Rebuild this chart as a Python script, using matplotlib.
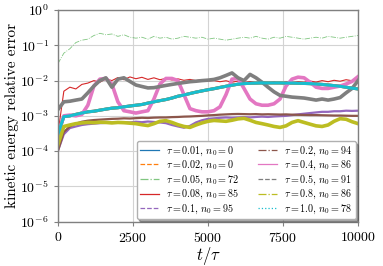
import numpy as np
import matplotlib
matplotlib.use("Agg")
import matplotlib.pyplot as plt
from matplotlib.lines import Line2D

plt.rcParams['font.family'] = 'serif'
plt.rcParams['font.serif'] = ['cmr10']
plt.rcParams['mathtext.fontset'] = 'cm'
plt.rcParams['axes.formatter.use_mathtext'] = True
plt.rcParams['axes.unicode_minus'] = False

# time axis (t / tau), one sample every 200
t = np.arange(0, 10001, 200)

taus = ['0.01', '0.02', '0.05', '0.08', '0.1', '0.2', '0.4', '0.5', '0.8', '1.0']
n0s = [0, 0, 72, 85, 95, 94, 86, 91, 86, 78]

err_005 = [0.03, 0.06, 0.08, 0.12, 0.14, 0.15, 0.19, 0.22, 0.20, 0.21,
           0.18, 0.20, 0.17, 0.16, 0.17, 0.15, 0.18, 0.16, 0.17, 0.15,
           0.16, 0.18, 0.17, 0.16, 0.17, 0.15, 0.16, 0.15, 0.14, 0.15,
           0.16, 0.17, 0.16, 0.18, 0.16, 0.15, 0.17, 0.16, 0.18, 0.17,
           0.16, 0.15, 0.16, 0.17, 0.16, 0.18, 0.17, 0.16, 0.17, 0.18,
           0.19]
err_008 = [3e-4, 0.005, 0.0065, 0.0058, 0.0078, 0.0085, 0.0100, 0.0090, 0.0112, 0.0100,
           0.0122, 0.0106, 0.0127, 0.0113, 0.0124, 0.0108, 0.0120, 0.0106, 0.0115, 0.0104,
           0.0112, 0.0102, 0.0108, 0.0100, 0.0106, 0.0098, 0.0100, 0.0093, 0.0099, 0.0090,
           0.0097, 0.0088, 0.0094, 0.0087, 0.0091, 0.0086, 0.0090, 0.0084, 0.0091, 0.0086,
           0.0093, 0.0090, 0.0097, 0.0091, 0.0100, 0.0093, 0.0102, 0.0096, 0.0106, 0.0099,
           0.0108]
err_01 = [1e-4, 3e-4, 4.5e-4, 5e-4, 5.5e-4, 5.8e-4, 6e-4, 6.2e-4, 6.3e-4, 6.5e-4,
          6.4e-4, 6.6e-4, 6.5e-4, 6.8e-4, 6.6e-4, 6.9e-4, 6.7e-4, 6.5e-4, 6.2e-4, 5.5e-4,
          5.0e-4, 4.6e-4, 5.2e-4, 6.5e-4, 7.5e-4, 8.2e-4, 8.5e-4, 8.8e-4, 9.0e-4, 8.8e-4,
          9.0e-4, 9.2e-4, 9.0e-4, 9.3e-4, 9.5e-4, 9.3e-4, 9.6e-4, 9.8e-4, 1.0e-3, 1.05e-3,
          1.1e-3, 1.15e-3, 1.2e-3, 1.25e-3, 1.3e-3, 1.3e-3, 1.35e-3, 1.35e-3, 1.4e-3, 1.38e-3,
          1.4e-3]
err_02 = [1e-4, 3.5e-4, 5e-4, 6e-4, 6.8e-4, 7.3e-4, 7.6e-4, 7.8e-4, 8.0e-4, 8.2e-4,
          8.3e-4, 8.5e-4, 8.4e-4, 8.6e-4, 8.8e-4, 8.7e-4, 8.9e-4, 9.0e-4, 9.0e-4, 9.2e-4,
          9.3e-4, 9.5e-4, 9.6e-4, 9.8e-4, 1.0e-3, 1.03e-3, 1.05e-3, 1.08e-3, 1.1e-3, 1.12e-3,
          1.13e-3, 1.12e-3, 1.11e-3, 1.12e-3, 1.1e-3, 1.11e-3, 1.1e-3, 1.09e-3, 1.1e-3, 1.08e-3,
          1.07e-3, 1.06e-3, 1.05e-3, 1.05e-3, 1.04e-3, 1.03e-3, 1.02e-3, 1.02e-3, 1.01e-3, 1.0e-3,
          1.0e-3]
err_04 = [3e-4, 1.0e-3, 1.05e-3, 1.0e-3, 1.1e-3, 2.0e-3, 7.0e-3, 0.011, 0.0115, 0.008,
          2.5e-3, 1.4e-3, 1.3e-3, 1.2e-3, 1.3e-3, 1.4e-3, 3.0e-3, 8.0e-3, 0.0115, 0.0115,
          0.010, 4.0e-3, 1.6e-3, 1.4e-3, 1.3e-3, 1.3e-3, 1.4e-3, 1.8e-3, 4.0e-3, 0.011,
          0.0115, 6.0e-3, 3.0e-3, 2.2e-3, 2.0e-3, 2.0e-3, 2.2e-3, 3.0e-3, 7.0e-3, 0.011,
          0.0125, 0.012, 9.0e-3, 6.5e-3, 6.0e-3, 6.0e-3, 6.5e-3, 7.0e-3, 8.0e-3, 9.5e-3,
          0.013]
err_05 = [1.5e-3, 2.5e-3, 2.6e-3, 2.8e-3, 3.0e-3, 4.5e-3, 7.0e-3, 0.010, 0.012, 0.0065,
          0.011, 0.012, 9.5e-3, 7.5e-3, 6.8e-3, 6.2e-3, 6.3e-3, 6.8e-3, 7.3e-3, 7.8e-3,
          8.3e-3, 8.8e-3, 9.3e-3, 9.6e-3, 0.010, 0.0103, 0.0108, 0.012, 0.014, 0.0165,
          0.012, 0.010, 0.015, 0.012, 9.0e-3, 6.5e-3, 4.8e-3, 3.8e-3, 3.6e-3, 3.4e-3,
          3.3e-3, 3.2e-3, 3.0e-3, 2.8e-3, 3.0e-3, 2.8e-3, 3.0e-3, 3.3e-3, 4.5e-3, 6.0e-3,
          0.010]
err_08 = [1.5e-4, 5e-4, 5.5e-4, 6e-4, 6.3e-4, 6.5e-4, 6.4e-4, 6.6e-4, 6.5e-4, 6.3e-4,
          6.5e-4, 6.4e-4, 6.2e-4, 6.0e-4, 5.6e-4, 5.3e-4, 6.0e-4, 7.0e-4, 7.3e-4, 6.5e-4,
          5.6e-4, 5.0e-4, 4.7e-4, 5.5e-4, 6.3e-4, 7.0e-4, 7.4e-4, 7.2e-4, 7.0e-4, 7.5e-4,
          8.2e-4, 8.5e-4, 7.5e-4, 6.5e-4, 6.0e-4, 5.5e-4, 5.0e-4, 4.7e-4, 5.2e-4, 6.5e-4,
          7.3e-4, 6.5e-4, 5.8e-4, 5.2e-4, 5.0e-4, 5.5e-4, 7.0e-4, 8.3e-4, 8.0e-4, 6.8e-4,
          6.0e-4]
err_10 = [3e-4, 9.5e-4, 1.0e-3, 1.1e-3, 1.2e-3, 1.3e-3, 1.35e-3, 1.45e-3, 1.55e-3, 1.65e-3,
          1.7e-3, 1.8e-3, 1.9e-3, 2.0e-3, 2.1e-3, 2.3e-3, 2.5e-3, 2.7e-3, 2.9e-3, 3.2e-3,
          3.6e-3, 3.9e-3, 4.3e-3, 4.7e-3, 5.1e-3, 5.5e-3, 5.9e-3, 6.4e-3, 6.9e-3, 7.4e-3,
          7.9e-3, 8.2e-3, 8.4e-3, 8.5e-3, 8.6e-3, 8.6e-3, 8.6e-3, 8.6e-3, 8.5e-3, 8.5e-3,
          8.4e-3, 8.3e-3, 8.2e-3, 8.0e-3, 7.8e-3, 7.5e-3, 7.2e-3, 6.9e-3, 6.5e-3, 6.1e-3,
          5.8e-3]
# the two n0 = 0 runs sit under the tau = 1.0 curve
err_001 = list(err_10)
err_002 = list(err_10)

series = [err_001, err_002, err_005, err_008, err_01, err_02, err_04, err_05, err_08, err_10]
colors = ['#1f77b4', '#ff7f0e', '#2ca02c', '#d62728', '#9467bd',
          '#8c564b', '#e377c2', '#7f7f7f', '#bcbd22', '#17becf']
styles = ['-', '--', '-.', '-', '--', '-.', '-', '--', '-.', ':']
widths = [2.2, 2.2, 0.6, 0.8, 1.6, 1.6, 2.6, 2.6, 2.6, 2.2]

fig = plt.figure(figsize=(3.83, 2.66), dpi=100)
ax = fig.add_axes([0.151, 0.167, 0.784, 0.795])

for i in range(len(series)):
    ls = '-.' if i == 2 else '-'
    a = 0.6 if i == 2 else 1.0
    ax.plot(t, series[i], color=colors[i], ls=ls, lw=widths[i], alpha=a)

ax.set_yscale('log')
ax.set_xlim(0, 10000)
ax.set_ylim(1e-6, 1)
ax.set_xticks([0, 2500, 5000, 7500, 10000])
ax.set_yticks([1e-6, 1e-5, 1e-4, 1e-3, 1e-2, 1e-1, 1])
ax.minorticks_off()
ax.grid(True, color='#d3d3d3', lw=0.8)
ax.set_axisbelow(True)
for s in ax.spines.values():
    s.set_color('#808080')
    s.set_linewidth(1.0)
ax.tick_params(axis='both', labelsize=10, length=3, color='#808080')
ax.set_xlabel(r'$t/\tau$', fontsize=12, labelpad=0)
ax.set_ylabel('kinetic energy relative error', fontsize=11, labelpad=1)

handles = [Line2D([], [], color=colors[i], ls=styles[i], lw=0.9,
                  alpha=0.6 if i == 2 else 1.0) for i in range(10)]
labels = [r'$\tau = %s,\, n_0 = %d$' % (taus[i], n0s[i]) for i in range(10)]
ax.legend(handles, labels, loc='lower right', ncol=2, fontsize=7.3,
          frameon=True, shadow=True, fancybox=True, borderaxespad=0.25,
          handlelength=1.9, handletextpad=0.7, columnspacing=1.8,
          labelspacing=0.12, borderpad=0.3, edgecolor='#b0b0b0')

fig.savefig('out.png', dpi=100)
